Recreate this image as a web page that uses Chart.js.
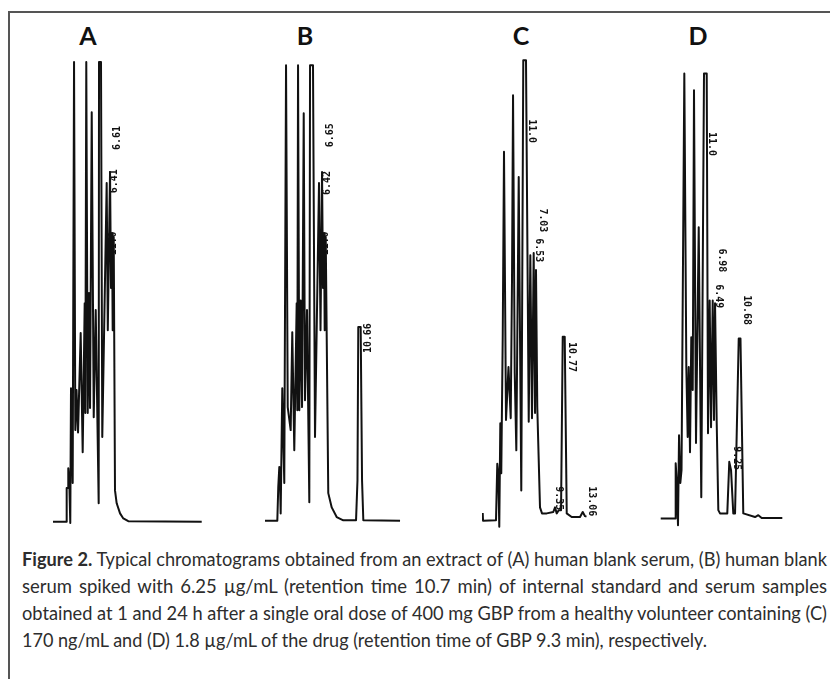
<!DOCTYPE html>
<html>
<head>
<meta charset="utf-8">
<script src="https://cdn.jsdelivr.net/npm/chart.js@4.4.1/dist/chart.umd.min.js"></script>
<style>
    body { margin: 0; background: #fff; }
    #page { position: relative; width: 830px; height: 679px; overflow: hidden; background: #fff; }
    #frame { position: absolute; left: 8px; top: 11px; width: 840px; height: 666px;
             border-top: 2px solid #555; border-left: 2px solid #555; }
    .panel { position: absolute; top: 50px; }
    .letter { position: absolute; top: 23px; width: 40px; margin-left: -20px; text-align: center;
              font: bold 25px/25px Lato, "Open Sans", sans-serif; color: #111; }
    .cap-line { position: absolute; left: 22px; height: 27px; white-space: nowrap;
                font: 18.5px/27px Lato, "Open Sans", sans-serif; color: #2d2d2d; }
    .cap-line span { display: inline-block; transform-origin: 0 0; }
</style>
</head>
<body>
<div id="page">
    <div id="frame"></div>

    <div class="letter" style="left: 88px">A</div>
    <div class="letter" style="left: 305px">B</div>
    <div class="letter" style="left: 521px">C</div>
    <div class="letter" style="left: 698px">D</div>

    <canvas class="panel" id="chartA" width="170" height="485" style="left: 53px"></canvas>
    <canvas class="panel" id="chartB" width="170" height="485" style="left: 265px"></canvas>
    <canvas class="panel" id="chartC" width="170" height="485" style="left: 482px"></canvas>
    <canvas class="panel" id="chartD" width="170" height="485" style="left: 660px"></canvas>

    <div class="cap-line" style="top: 546px" data-w="805" data-justify="1"><span><b>Figure 2.</b> Typical chromatograms obtained from an extract of (A) human blank serum, (B) human blank</span></div>
    <div class="cap-line" style="top: 573px" data-w="805" data-justify="1"><span>serum spiked with 6.25 µg/mL (retention time 10.7 min) of internal standard and serum samples</span></div>
    <div class="cap-line" style="top: 600px" data-w="805" data-justify="1"><span>obtained at 1 and 24 h after a single oral dose of 400 mg GBP from a healthy volunteer containing (C)</span></div>
    <div class="cap-line" style="top: 627px" data-w="685"><span>170 ng/mL and (D) 1.8 µg/mL of the drug (retention time of GBP 9.3 min), respectively.</span></div>
</div>

<script>
// retention time (min) and detector signal (% of full scale)
const timesA = [0, 1.63, 1.71, 1.91, 1.91, 2.04, 2.16, 2.25, 2.46, 2.63, 2.79, 2.94, 3.13, 3.46, 3.71, 3.96, 4.04, 4.16, 4.34, 4.5,
    4.63, 4.84, 5.09, 5.34, 5.71, 5.75, 6.0, 6.16, 6.71, 6.85, 7.13, 7.25, 7.38, 7.46, 7.59, 7.75, 7.96, 8.38, 8.79, 9.41, 18.59];
const signalA = [-0.1, -0.1, 7.2, 7.2, 11.5, 8.3, -0.4, 28.9, 8.3, 99.8, 19.8, 28.5, 19.3, 40.9, 15.0, 47.4, 23.5, 99.8, 23.5, 49.6,
    24.6, 88.9, 22.6, 45.9, 3.9, 99.8, 99.8, 18.3, 73.5, 41.5, 75.9, 50.7, 62.6, 41.5, 61.7, 6.7, 3.9, 1.7, 0.6, 0, -0.1];

const timesB = [0, 1.54, 1.66, 1.79, 1.88, 1.96, 2.16, 2.41, 2.63, 2.84, 3.21, 3.41, 3.66, 3.96, 4.04, 4.13, 4.29, 4.46, 4.63, 4.84,
    5.0, 5.25, 5.54, 5.63, 6.0, 6.25, 6.75, 6.94, 7.13, 7.25, 7.38, 7.46, 7.59, 7.91, 8.34, 8.96, 9.79, 11.38, 11.56, 11.66,
    11.96, 12.13, 12.29, 16.88];
const signalB = [0.1, 0.1, 7.5, 11.8, 8.3, 1.7, 28.9, 8.3, 99.1, 24.8, 19.8, 41.1, 15.4, 47.4, 24.1, 99.1, 24.1, 48.0, 24.8, 88.7,
    26.3, 45.9, 4.1, 99.1, 99.1, 18.3, 73.5, 41.5, 75.9, 50.7, 62.6, 41.5, 61.7, 6.1, 3.0, 0.9, 0.2, 0.2, 8.9, 42.2,
    42.2, 8.9, 0.2, 0.1];

const timesC = [0.09, 0.13, 1.75, 1.91, 2.04, 2.16, 2.29, 2.41, 2.59, 2.75, 3.0, 3.31, 3.59, 3.75, 3.88, 4.09, 4.29, 4.59, 4.91, 5.16,
    5.5, 5.84, 6.04, 6.25, 6.46, 6.63, 6.75, 6.91, 7.25, 7.5, 8.09, 8.91, 9.13, 9.34, 9.59, 9.88, 10.09, 10.34, 10.59, 11.21,
    12.25, 12.59, 12.88, 13.06];
const signalC = [1.8, 0.1, 0.2, 12.5, 10.4, -1.2, 21.3, 10.4, 40.0, 80.3, 22.0, 33.5, 22.4, 52.4, 92.6, 32.2, 15.4, 74.8, 6.7, 100.2,
    100.2, 21.6, 57.8, 22.4, 58.3, 23.5, 54.6, 24.8, 3.0, 1.7, 1.7, 2.0, 3.0, 1.7, 2.4, 2.4, 40.1, 40.1, 1.7, 0.9,
    0.9, 2.0, 1.1, 1.0];

const timesD = [0.09, 1.88, 1.96, 2.09, 2.25, 2.38, 2.54, 2.69, 3.04, 3.29, 3.46, 3.59, 3.75, 3.91, 4.09, 4.25, 4.5, 4.84, 5.16, 5.5,
    5.84, 6.0, 6.21, 6.38, 6.59, 6.75, 6.88, 7.09, 7.29, 7.5, 8.41, 8.66, 8.88, 9.16, 9.38, 9.84, 10.06, 10.41, 11.88, 12.29,
    12.71, 15.29];
const signalD = [0.6, 0.6, 12.6, 8.9, -0.9, 18.7, 8.3, 11.1, 97.3, 33.5, 18.3, 33.5, 15.0, 40.0, 28.5, 93.7, 17.0, 63.9, 5.2, 97.3,
    97.3, 19.1, 48.0, 20.4, 48.0, 22.0, 47.4, 21.3, 2.4, 1.7, 1.7, 12.9, 11.1, 1.7, 1.7, 39.7, 39.7, 1.7, 0.9, 1.3,
    0.7, 0.7];

// printed peak labels: [time, signal, text]
const labelsA = [[8.0, 83.3, '6.61'], [7.63, 73.9, '6.41'], [7.5, 60.4, '11.0']];
const labelsB = [[8.13, 83.9, '6.65'], [7.75, 73.5, '6.42'], [7.5, 60.4, '11.0'], [12.88, 39.8, '10.66']];
const labelsC = [[6.25, 84.8, '11.0'], [7.63, 65.4, '7.03'], [7.13, 58.9, '6.53'], [11.25, 35.7, '10.77'],
    [9.63, 5.0, '9.35'], [13.75, 4.35, '13.06']];
const labelsD = [[6.5, 82.0, '11.0'], [7.75, 56.7, '6.98'], [7.38, 48.9, '6.49'], [10.88, 45.9, '10.68'], [9.63, 13.7, '9.25']];

// labels are printed under the trace, so draw them first
const peakLabels = {
    id: 'peakLabels',
    beforeDatasetsDraw(chart, args, opts) {
        const { ctx } = chart;
        const x = chart.scales.x;
        const y = chart.scales.y;
        ctx.save();
        ctx.fillStyle = '#111';
        ctx.font = 'bold 11px "DejaVu Sans Mono", monospace';
        ctx.textAlign = 'center';
        ctx.textBaseline = 'middle';
        opts.items.forEach(([t, v, text]) => {
            ctx.save();
            ctx.translate(x.getPixelForValue(t), y.getPixelForValue(v));
            ctx.rotate(opts.dir * Math.PI / 2);
            ctx.scale(0.9, 1);
            ctx.fillText(text, 0, 0);
            ctx.restore();
        });
        ctx.restore();
    }
};

function drawTrace(id, times, signal, labels, dir) {
    const ctx = document.getElementById(id).getContext('2d');
    return new Chart(ctx, {
        type: 'line',
        data: {
            datasets: [{
                data: times.map((t, i) => ({ x: t, y: signal[i] })),
                borderColor: '#111',
                borderWidth: 2,
                borderJoinStyle: 'round',
                pointRadius: 0,
                tension: 0,
                fill: false,
                clip: false,
            }]
        },
        options: {
            responsive: false,
            animation: false,
            layout: { padding: 0 },
            scales: {
                x: { type: 'linear', min: 0, max: 21.25, display: false },
                y: { type: 'linear', min: -3, max: 102.43, display: false },
            },
            plugins: {
                legend: { display: false },
                tooltip: { enabled: false },
                peakLabels: { items: labels, dir: dir },
            }
        },
        plugins: [peakLabels]
    });
}

drawTrace('chartA', timesA, signalA, labelsA, -1);
drawTrace('chartB', timesB, signalB, labelsB, -1);
drawTrace('chartC', timesC, signalC, labelsC, 1);
drawTrace('chartD', timesD, signalD, labelsD, 1);

// justify the caption lines to the widths of the printed ones
function fitCaption() {
    document.querySelectorAll('.cap-line').forEach(line => {
        const span = line.firstElementChild;
        const target = Number(line.dataset.w);
        const w = span.getBoundingClientRect().width;
        if (line.dataset.justify && w < target) {
            const gaps = (span.textContent.match(/ /g) || []).length;
            span.style.wordSpacing = `${(target - w) / gaps}px`;
        } else {
            span.style.transform = `scaleX(${target / w})`;
        }
    });
}
document.fonts.ready.then(fitCaption);
</script>
</body>
</html>
